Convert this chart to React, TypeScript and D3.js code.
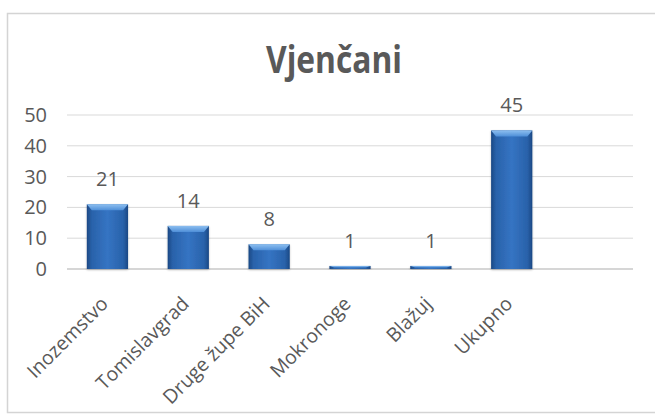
import React from "react";
import * as d3 from "d3";

const categories = ["Inozemstvo", "Tomislavgrad", "Druge župe BiH", "Mokronoge", "Blažuj", "Ukupno", ""];
const values: (number | null)[] = [21, 14, 8, 1, 1, 45, null];
const yTicks = [0, 10, 20, 30, 40, 50];
const title = "Vjenčani";

const W = 655;
const H = 420;

export default function App() {
  const x = d3
    .scaleBand<string>()
    .domain(categories.map((c, i) => String(i)))
    .range([67, 633])
    .paddingInner(0.49)
    .paddingOuter(0.245);
  const y = d3.scaleLinear().domain([0, 50]).range([269, 115]);
  const bw = x.bandwidth();
  const textColor = "#595959";
  const font = "'Open Sans', 'Liberation Sans', sans-serif";

  return (
    <svg
      width={W}
      height={H}
      viewBox={`0 0 ${W} ${H}`}
      style={{ position: "absolute", left: 0, top: 0, background: "#fff" }}
    >
      <defs>
        <linearGradient id="barGrad" x1="0" y1="0" x2="1" y2="0">
          <stop offset="0%" stopColor="#1b4884" />
          <stop offset="12%" stopColor="#2962aa" />
          <stop offset="50%" stopColor="#3574c3" />
          <stop offset="88%" stopColor="#2962aa" />
          <stop offset="100%" stopColor="#1b4884" />
        </linearGradient>
        <linearGradient id="bevelGrad" x1="0" y1="0" x2="0" y2="1">
          <stop offset="0%" stopColor="#8dbff0" />
          <stop offset="100%" stopColor="#4f8fd8" />
        </linearGradient>
        <filter id="shadow" x="-20%" y="-20%" width="140%" height="140%">
          <feGaussianBlur in="SourceAlpha" stdDeviation="1.2" />
          <feOffset dx="0" dy="1" result="b" />
          <feComponentTransfer>
            <feFuncA type="linear" slope="0.25" />
          </feComponentTransfer>
          <feMerge>
            <feMergeNode />
            <feMergeNode in="SourceGraphic" />
          </feMerge>
        </filter>
      </defs>

      {/* chart area border */}
      <rect x={7.5} y={13.5} width={660} height={399} fill="#fff" stroke="#d4d4d4" strokeWidth={1.5} />

      {/* title */}
      <text
        x={334}
        y={73}
        textAnchor="middle"
        fontFamily="'Open Sans', 'Liberation Sans', sans-serif"
        fontWeight="bold"
        fontSize={38}
        textLength={136}
        lengthAdjust="spacingAndGlyphs"
        fill={textColor}
      >
        {title}
      </text>

      {/* gridlines */}
      {yTicks.map((t) => (
        <line
          key={t}
          x1={67}
          x2={633}
          y1={y(t)}
          y2={y(t)}
          stroke={t === 0 ? "#c8c8c8" : "#d9d9d9"}
          strokeWidth={t === 0 ? 1.5 : 1}
        />
      ))}

      {/* y tick labels */}
      {yTicks.map((t) => (
        <text
          key={"l" + t}
          x={47}
          y={y(t) + 7}
          textAnchor="end"
          fontFamily={font}
          fontSize={20}
          fill={textColor}
        >
          {t}
        </text>
      ))}

      {/* bars */}
      {values.map((v, i) => {
        if (v == null) return null;
        const bx = x(String(i))!;
        const top = y(v);
        const h = y(0) - top;
        const bev = Math.min(6, h / 2);
        return (
          <g key={"b" + i} filter="url(#shadow)">
            <rect x={bx} y={top} width={bw} height={h} fill="url(#barGrad)" />
            <polygon
              points={`${bx},${top} ${bx + bw},${top} ${bx + bw - 5},${top + bev} ${bx + 5},${top + bev}`}
              fill="url(#bevelGrad)"
            />
          </g>
        );
      })}

      {/* data labels */}
      {values.map((v, i) =>
        v == null ? null : (
          <text
            key={"d" + i}
            x={x(String(i))! + bw / 2}
            y={y(v) - 18}
            textAnchor="middle"
            fontFamily={font}
            fontSize={20}
            fill={textColor}
          >
            {v}
          </text>
        )
      )}

      {/* x labels */}
      {categories.map((c, i) => {
        if (!c) return null;
        const cx = x(String(i))! + bw / 2 + 2;
        const cy = 305;
        return (
          <text
            key={"x" + i}
            x={cx}
            y={cy}
            textAnchor="end"
            transform={`rotate(-45, ${cx}, ${cy})`}
            fontFamily={font}
            fontSize={19.5}
            fill={textColor}
          >
            {c}
          </text>
        );
      })}
    </svg>
  );
}
